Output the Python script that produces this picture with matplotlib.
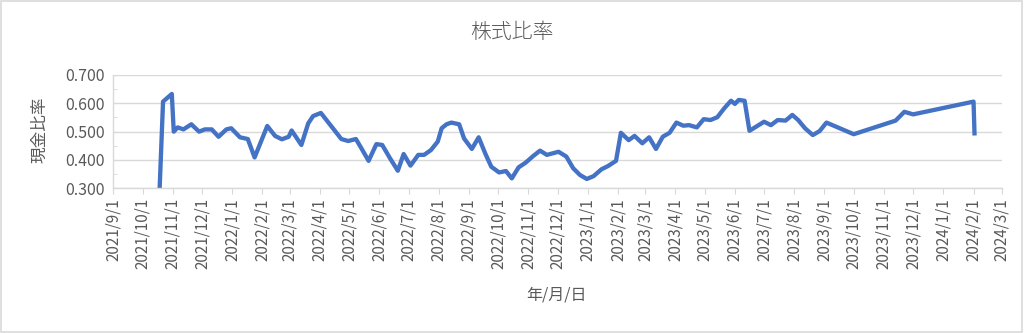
#!/usr/bin/env python3
# Stock ratio over time, redrawn from an Excel line chart.

import matplotlib as mpl
mpl.use("Agg")
import matplotlib.pyplot as plt
import matplotlib.dates as mdates
from matplotlib.ticker import FuncFormatter, MultipleLocator
import pandas as pd

mpl.rcParams.update({
	"font.family": ["Noto Sans CJK JP", "DejaVu Sans"],
	"font.size": 11,
	"text.color": "#595959",
	"axes.labelcolor": "#595959",
	"xtick.color": "#595959",
	"ytick.color": "#595959",
})

DATES = [
	"2021-10-18", "2021-10-22", "2021-10-31", "2021-11-02", "2021-11-06",
	"2021-11-12", "2021-11-20", "2021-11-28", "2021-12-04", "2021-12-11",
	"2021-12-18", "2021-12-26", "2021-12-31", "2022-01-09", "2022-01-17",
	"2022-01-24", "2022-02-06", "2022-02-14", "2022-02-21", "2022-02-28",
	"2022-03-03", "2022-03-13", "2022-03-20", "2022-03-25", "2022-04-02",
	"2022-04-13", "2022-04-23", "2022-04-30", "2022-05-08", "2022-05-14",
	"2022-05-21", "2022-05-29", "2022-06-04", "2022-06-12", "2022-06-20",
	"2022-06-26", "2022-07-03", "2022-07-11", "2022-07-17", "2022-07-24",
	"2022-07-31", "2022-08-04", "2022-08-09", "2022-08-14", "2022-08-22",
	"2022-08-27", "2022-09-04", "2022-09-11", "2022-09-18", "2022-09-24",
	"2022-10-02", "2022-10-09", "2022-10-15", "2022-10-22", "2022-10-29",
	"2022-11-06", "2022-11-13", "2022-11-20", "2022-12-02", "2022-12-10",
	"2022-12-17", "2022-12-24", "2022-12-31", "2023-01-07", "2023-01-15",
	"2023-01-22", "2023-01-30", "2023-02-04", "2023-02-12", "2023-02-18",
	"2023-02-26", "2023-03-05", "2023-03-12", "2023-03-19", "2023-03-26",
	"2023-04-02", "2023-04-09", "2023-04-15", "2023-04-23", "2023-04-30",
	"2023-05-07", "2023-05-14", "2023-05-21", "2023-05-28", "2023-06-01",
	"2023-06-05", "2023-06-11", "2023-06-16", "2023-06-23", "2023-07-01",
	"2023-07-08", "2023-07-15", "2023-07-23", "2023-07-30", "2023-08-05",
	"2023-08-12", "2023-08-20", "2023-08-27", "2023-09-03", "2023-10-01",
	"2023-11-13", "2023-11-22", "2023-12-01", "2024-02-01", "2024-02-02",
]

RATIO = [
	0.255, 0.606, 0.633, 0.500, 0.515,
	0.508, 0.526, 0.500, 0.508, 0.508,
	0.482, 0.508, 0.512, 0.480, 0.474,
	0.409, 0.520, 0.485, 0.473, 0.482,
	0.504, 0.453, 0.529, 0.555, 0.566,
	0.518, 0.474, 0.467, 0.474, 0.439,
	0.397, 0.456, 0.453, 0.406, 0.362,
	0.421, 0.380, 0.418, 0.418, 0.435,
	0.465, 0.512, 0.526, 0.532, 0.526,
	0.476, 0.439, 0.480, 0.421, 0.376,
	0.356, 0.361, 0.335, 0.374, 0.390,
	0.414, 0.433, 0.418, 0.429, 0.412,
	0.371, 0.347, 0.333, 0.343, 0.367,
	0.379, 0.397, 0.496, 0.470, 0.485,
	0.459, 0.480, 0.439, 0.482, 0.496,
	0.532, 0.521, 0.523, 0.515, 0.544,
	0.541, 0.551, 0.582, 0.609, 0.598,
	0.612, 0.609, 0.503, 0.518, 0.535,
	0.523, 0.541, 0.539, 0.559, 0.541,
	0.512, 0.488, 0.502, 0.532, 0.491,
	0.539, 0.570, 0.561, 0.606, 0.494,
]

TITLE = "株式比率"
YLABEL = "現金比率"
XLABEL = "年/月/日"

GRID = "#d9d9d9"
LINE = "#4472C4"


def date_label(x, pos=None):
	d = mdates.num2date(x)
	return "%d/%d/%d" % (d.year, d.month, d.day)


def plot_ratio(fig):
	ax = fig.add_axes([0.1107, 0.4345, 0.8676, 0.3403])

	dates = pd.to_datetime(DATES)
	ax.plot(dates, RATIO, color=LINE, linewidth=3.1, solid_joinstyle="round")

	# Axis ranges as in the original chart.
	ax.set_xlim(pd.Timestamp("2021-09-01"), pd.Timestamp("2024-03-01"))
	ax.set_ylim(0.3, 0.7)

	ax.xaxis.set_major_locator(mdates.MonthLocator(bymonthday=1))
	ax.xaxis.set_major_formatter(FuncFormatter(date_label))
	ax.yaxis.set_major_locator(MultipleLocator(0.1))
	ax.yaxis.set_minor_locator(MultipleLocator(0.05))
	ax.yaxis.set_major_formatter(FuncFormatter(lambda v, p: "%.3f" % v))

	ax.tick_params(axis="x", rotation=90, length=4, color=GRID, pad=3)
	ax.tick_params(axis="y", labelsize=11.5)
	ax.tick_params(axis="y", which="both", length=3, direction="in", color=GRID, pad=6)

	ax.grid(axis="y", color=GRID, linewidth=1)
	ax.set_axisbelow(True)
	for side in ("top", "right"):
		ax.spines[side].set_visible(False)
	for side in ("left", "bottom"):
		ax.spines[side].set_color(GRID)
		ax.spines[side].set_linewidth(1)

	fig.text(0.5, 0.903, TITLE, ha="center", va="center", fontsize=15, weight="light")
	fig.text(0.039, 0.61, YLABEL, ha="center", va="center", rotation=90, fontsize=12)
	fig.text(0.543, 0.114, XLABEL, ha="center", va="center", fontsize=11.5)

	# Light border round the chart area.
	fig.patches.append(plt.Rectangle((0.001, 0.002), 0.997, 0.994, transform=fig.transFigure,
		fill=False, edgecolor=GRID, linewidth=1.2))


def main():
	fig = plt.figure(figsize=(10.24, 3.33), dpi=100)
	plot_ratio(fig)
	fig.savefig("out.png", dpi=100)


if __name__ == "__main__":
	main()
